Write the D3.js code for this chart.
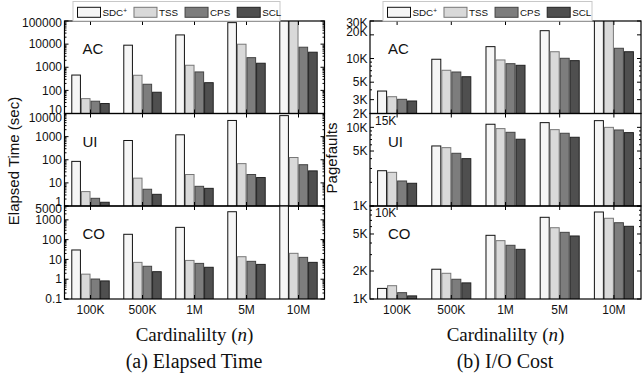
<!DOCTYPE html>
<html><head><meta charset="utf-8">
<script src="https://cdn.jsdelivr.net/npm/d3@7"></script>
<style>
body{margin:0;background:#fff}
svg{display:block}
text{font-family:"Liberation Sans",Arial,Helvetica,sans-serif;fill:#111}
.serif{font-family:"Liberation Serif","Times New Roman",serif}
</style>
</head><body>
<svg id="c" width="642" height="375"></svg>
<script>
// ---------- data ----------
const categories = ["100K", "500K", "1M", "5M", "10M"];
const seriesNames = ["SDC", "TSS", "CPS", "SCL"];

// Elapsed time (sec), rows = SDC+, TSS, CPS, SCL
const timeAC = [
  [460, 9000, 25000, 85000, 150000],
  [44, 450, 1220, 9900, 150000],
  [34, 184, 627, 2600, 7350],
  [27, 83, 215, 1490, 4470]
];
const timeUI = [
  [85, 680, 1200, 5000, 8100],
  [4.2, 16, 23, 68, 125],
  [2.15, 5.3, 7.1, 23, 61],
  [1.45, 3.2, 5.8, 17, 33]
];
const timeCO = [
  [30, 186, 417, 2570, 8000],
  [1.8, 7.1, 8.9, 13.7, 20.3],
  [1.02, 4.5, 6.3, 8.0, 12.7],
  [0.82, 2.4, 4.0, 5.6, 7.1]
];
// Pagefaults
const ioAC = [
  [3860, 9790, 14160, 22600, 40000],
  [3270, 7090, 9590, 12200, 40000],
  [3030, 6740, 8600, 10070, 13500],
  [2885, 5870, 8200, 9400, 12200]
];
const ioUI = [
  [2810, 5800, 10950, 11480, 12170],
  [2680, 5520, 9640, 9350, 10000],
  [2080, 4680, 8650, 8410, 9260],
  [1945, 4000, 7060, 7480, 8570]
];
const ioCO = [
  [1300, 2090, 4840, 7560, 8620],
  [1390, 1890, 4240, 5840, 7380],
  [1170, 1630, 3780, 5210, 6610],
  [1080, 1490, 3420, 4760, 6050]
];

// tick values
const timeTicksAC = [10, 100, 1000, 10000, 100000];
const timeTicksUI = [1, 10, 100, 1000, 10000];
const timeTicksCO = [0.1, 1, 10, 100, 1000, 5000];
const ioTicksAC = [2000, 3000, 5000, 10000, 20000, 30000];
const ioTicksUI = [1000, 5000, 10000, 15000];
const ioTicksCO = [1000, 2000, 5000, 10000];

// ---------- styles ----------
const fills = ["#f6f6f6", "#d9d9d9", "#7d7d7d", "#4f4f4f"];
const strokes = ["#111", "#777", "#444", "#222"];

const svg = d3.select("#c");
const rows = [[21, 113.5], [113.5, 206], [206, 299]];
const sides = {
  L: {x0: 64.5, x1: 324.5},
  R: {x0: 370, x1: 641}
};

const panels = [
  {side: "L", row: 0, name: "AC", data: timeAC, domain: [10, 100000], ticks: timeTicksAC, nudge: {10: -4, 100000: 1.5}},
  {side: "L", row: 1, name: "UI", data: timeUI, domain: [1, 10000], ticks: timeTicksUI, nudge: {10000: 4.5, 1: -4}},
  {side: "L", row: 2, name: "CO", data: timeCO, domain: [0.1, 5000], ticks: timeTicksCO, nudge: {5000: 2.5}},
  {side: "R", row: 0, name: "AC", data: ioAC, domain: [2000, 30000], ticks: ioTicksAC, nudge: {30000: 1.5, 20000: -3}, kfmt: true},
  {side: "R", row: 1, name: "UI", data: ioUI, domain: [1000, 15000], ticks: ioTicksUI, nudge: {}, kfmt: true, inside: 15000},
  {side: "R", row: 2, name: "CO", data: ioCO, domain: [1000, 10000], ticks: ioTicksCO, nudge: {}, kfmt: true, inside: 10000}
];

const defs = svg.append("defs");

panels.forEach((p, i) => {
  const s = sides[p.side];
  const [top, bot] = rows[p.row];
  const x = d3.scaleBand().domain(categories).range([s.x0, s.x1]).paddingInner(0.28).paddingOuter(0.14);
  const xs = d3.scaleBand().domain(seriesNames).range([0, x.bandwidth()]).paddingInner(0.1);
  const y = d3.scaleLog().domain(p.domain).range([bot, top]);

  const cid = "clip" + i;
  defs.append("clipPath").attr("id", cid).append("rect")
    .attr("x", s.x0).attr("y", top).attr("width", s.x1 - s.x0).attr("height", bot - top);

  const g = svg.append("g");
  const bars = g.append("g").attr("clip-path", `url(#${cid})`);
  p.data.forEach((vals, si) => {
    bars.selectAll(null).data(vals).enter().append("rect")
      .attr("x", (d, ci) => x(categories[ci]) + xs(seriesNames[si]))
      .attr("y", d => y(d))
      .attr("width", xs.bandwidth())
      .attr("height", d => bot - y(d) + 2)
      .attr("fill", fills[si])
      .attr("stroke", strokes[si])
      .attr("stroke-width", 1);
  });

  // frame
  g.append("rect").attr("x", s.x0).attr("y", top).attr("width", s.x1 - s.x0).attr("height", bot - top)
    .attr("fill", "none").attr("stroke", "#000").attr("stroke-width", 1.2);

  // minor / major y ticks on both sides
  const minor = y.ticks().filter(v => v >= p.domain[0] && v <= p.domain[1]);
  const tk = g.append("g").attr("stroke", "#000").attr("stroke-width", 1);
  minor.forEach(v => {
    const major = p.ticks.includes(v);
    const len = major ? 4 : 2;
    tk.append("line").attr("x1", s.x0).attr("x2", s.x0 + len).attr("y1", y(v)).attr("y2", y(v));
    tk.append("line").attr("x1", s.x1).attr("x2", s.x1 - len).attr("y1", y(v)).attr("y2", y(v));
  });
  // x ticks at top and bottom
  categories.forEach(c => {
    const cx = x(c) + x.bandwidth() / 2;
    tk.append("line").attr("x1", cx).attr("x2", cx).attr("y1", top).attr("y2", top + 4);
    tk.append("line").attr("x1", cx).attr("x2", cx).attr("y1", bot).attr("y2", bot - 4);
  });

  // y tick labels
  const fmt = v => p.kfmt ? (v / 1000) + "K" : String(v);
  p.ticks.forEach(v => {
    if (p.inside === v) {
      g.append("text").attr("x", s.x0 + 5).attr("y", y(v) + 7).attr("dy", "0.35em")
        .attr("font-size", 12).text(fmt(v));
      return;
    }
    g.append("text").attr("x", s.x0 - 2.5).attr("y", y(v) + (p.nudge[v] || 0)).attr("dy", "0.35em")
      .attr("text-anchor", "end").attr("font-size", 12).text(fmt(v));
  });

  // panel name
  g.append("text").attr("x", s.x0 + 18).attr("y", top + 33).attr("font-size", 15).text(p.name);

  // category labels on bottom row
  if (p.row === 2) {
    categories.forEach(c => {
      g.append("text").attr("x", x(c) + x.bandwidth() / 2).attr("y", 310).attr("dy", "0.35em")
        .attr("text-anchor", "middle").attr("font-size", 12).text(c);
    });
  }
});

// legends
function legend(x0, w) {
  const lg = svg.append("g");
  lg.append("rect").attr("x", x0).attr("y", 1.5).attr("width", w).attr("height", 19.5)
    .attr("fill", "#fff").attr("stroke", "#c8c8c8").attr("stroke-width", 1);
  let cx = x0 + 4.5;
  seriesNames.forEach((n, i) => {
    lg.append("rect").attr("x", cx).attr("y", 7.3).attr("width", 23).attr("height", 10)
      .attr("fill", fills[i]).attr("stroke", strokes[i]).attr("stroke-width", 1);
    const t = lg.append("text").attr("x", cx + 25).attr("y", 16.3).attr("font-size", 9.8).text(n);
    if (i === 0) t.append("tspan").attr("font-size", 6.5).attr("dy", -3.5).text("+");
    cx += 25 + t.node().getComputedTextLength() + 7;
  });
}
legend(73, 207);
legend(383, 209);

// axis titles
svg.append("text").attr("transform", "translate(19,161) rotate(-90)").attr("text-anchor", "middle")
  .attr("font-size", 15).text("Elapsed Time (sec)");
svg.append("text").attr("transform", "translate(337,158) rotate(-90)").attr("text-anchor", "middle")
  .attr("font-size", 15).text("Pagefaults");

// bottom captions
function caption(cx) {
  const t = svg.append("text").attr("class", "serif").attr("x", cx).attr("y", 341)
    .attr("text-anchor", "middle").attr("font-size", 19);
  t.append("tspan").text("Cardinalilty (");
  t.append("tspan").attr("font-style", "italic").text("n");
  t.append("tspan").text(")");
}
caption(194.5);
caption(505.5);
svg.append("text").attr("class", "serif").attr("x", 194).attr("y", 368).attr("text-anchor", "middle")
  .attr("font-size", 20).text("(a) Elapsed Time");
svg.append("text").attr("class", "serif").attr("x", 505).attr("y", 368).attr("text-anchor", "middle")
  .attr("font-size", 20).text("(b) I/O Cost");
</script>
</body></html>
